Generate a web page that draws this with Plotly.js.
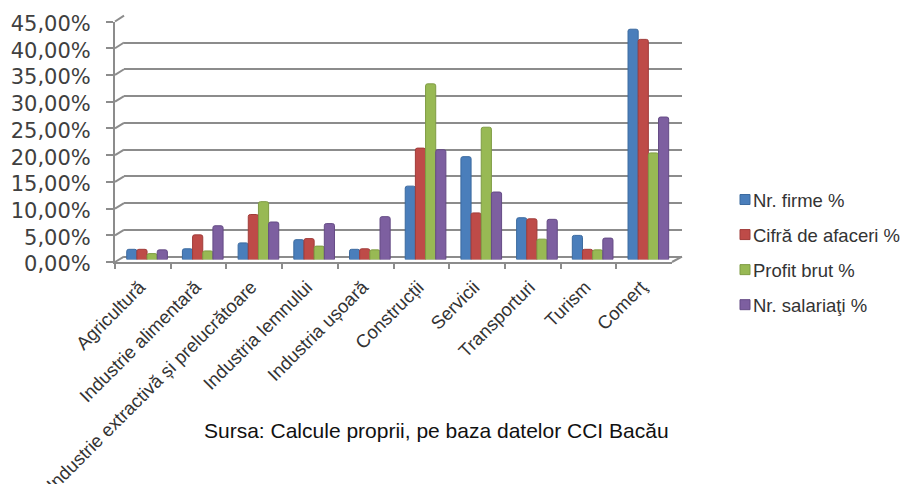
<!DOCTYPE html>
<html>
<head>
<meta charset="utf-8">
<script src="https://cdn.plot.ly/plotly-3.0.1.min.js"></script>
<style>html,body{margin:0;padding:0;background:#fff}#c{width:901px;height:484px}</style>
</head>
<body>
<div id="c"></div>
<script>
const categories = ["Agricultură","Industrie alimentară","Industrie extractivă și prelucrătoare","Industria lemnului","Industria ușoară","Construcții","Servicii","Transporturi","Turism","Comerţ"];
const nrFirme = [1.9,2.0,3.1,3.7,1.9,13.7,19.2,7.8,4.5,43.0];
const cifraAfaceri = [1.9,4.6,8.4,3.9,2.0,20.8,8.7,7.6,1.9,41.1];
const profitBrut = [1.1,1.6,10.8,2.5,1.8,32.8,24.7,3.8,1.8,19.9];
const nrSalariati = [1.8,6.3,7.0,6.7,8.0,20.5,12.6,7.5,4.0,26.6];
const seriesNames = ["Nr. firme %","Cifră de afaceri %","Profit brut %","Nr. salariaţi %"];
const seriesValues = [nrFirme,cifraAfaceri,profitBrut,nrSalariati];
const colors = ["#4A7EBB","#BE4B48","#98B954","#7D5FA0"];
const edges = ["#3B6A9F","#A03C3A","#7F9C44","#654B85"];
const sourceText = "Sursa: Calcule proprii, pe baza datelor CCI Bacău";
const W = 901, H = 484;
const fx = p => p / W, fy = p => 1 - p / H;
const yMax = 45, yStep = 5;
const front = {x0:115, x1:672, top:21.5, bottom:262};
const back  = {x0:124, x1:682, top:15.7, bottom:256.7};
const mid   = {x0:119.2, x1:676.2, top:18.5, bottom:259.5};
const axisColor = "#8C8C8C";

const traces = [
  {type:"scatter",mode:"none",x:categories,y:categories.map(()=>0),xaxis:"x",yaxis:"y",showlegend:false,hoverinfo:"skip"},
  {type:"scatter",mode:"none",x:categories,y:categories.map(()=>0),xaxis:"x2",yaxis:"y2",showlegend:false,hoverinfo:"skip"}
];
seriesNames.forEach((name,i)=>traces.push({
  type:"bar",name,x:categories,y:seriesValues[i],xaxis:"x3",yaxis:"y3",legendgroup:name,
  marker:{color:colors[i],line:{color:edges[i],width:1},cornerradius:2}
}));

const shapes = [];
for (let v=0;v<=yMax;v+=yStep){
  const t=v/yMax;
  shapes.push({type:"line",xref:"paper",yref:"paper",layer:"below",
    x0:fx(front.x0),x1:fx(back.x0),
    y0:fy(front.bottom+(front.top-front.bottom)*t),y1:fy(back.bottom+(back.top-back.bottom)*t),
    line:{color:axisColor,width:2}});
}
shapes.push({type:"line",xref:"paper",yref:"paper",layer:"below",x0:fx(front.x1),x1:fx(back.x1),y0:fy(front.bottom),y1:fy(back.bottom),line:{color:axisColor,width:2}});

const dom = (b)=>({x:[fx(b.x0),fx(b.x1)],y:[fy(b.bottom),fy(b.top)]});
const layout = {
  width:W,height:H,margin:{l:0,r:0,t:0,b:0},paper_bgcolor:"#fff",plot_bgcolor:"rgba(0,0,0,0)",
  barmode:"group",bargap:0.27,bargroupgap:0,showlegend:true,
  xaxis:{domain:dom(front).x,anchor:"y",type:"category",categoryarray:categories,categoryorder:"array",range:[-0.5,9.5],
    tickson:"boundaries",ticks:"outside",ticklen:5,tickwidth:2,tickcolor:axisColor,showline:true,linecolor:axisColor,linewidth:2,
    showgrid:false,zeroline:false,tickangle:-45,automargin:false,ticklabelstandoff:5,ticklabelshift:-3,tickfont:{family:"Liberation Sans, Arial",size:18.5,color:"#333"}},
  yaxis:{domain:dom(front).y,anchor:"x",range:[0,yMax+0.02],tick0:0,ticks:"outside",ticklen:7,tickwidth:2,tickcolor:axisColor,
    showline:true,linecolor:axisColor,linewidth:2,showgrid:false,zeroline:false,automargin:false,ticklabelstandoff:11,ticklabelshift:2,
    tickvals:[0,5,10,15,20,25,30,35,40,45],ticktext:["0,00%","5,00%","10,00%","15,00%","20,00%","25,00%","30,00%","35,00%","40,00%","45,00%"],
    tickfont:{family:"DejaVu Sans",size:21,color:"#404040"}},
  xaxis2:{domain:dom(back).x,anchor:"y2",type:"category",categoryarray:categories,range:[-0.5,9.5],showticklabels:false,ticks:"",showgrid:false,zeroline:false,showline:false},
  yaxis2:{domain:dom(back).y,anchor:"x2",range:[0,yMax+0.02],tickvals:[0,5,10,15,20,25,30,35,40,45],showticklabels:false,ticks:"",showgrid:true,gridcolor:axisColor,gridwidth:2,zeroline:true,zerolinecolor:axisColor,zerolinewidth:2,showline:false},
  xaxis3:{domain:dom(mid).x,anchor:"y3",type:"category",categoryarray:categories,range:[-0.5,9.5],showticklabels:false,ticks:"",showgrid:false,zeroline:false,showline:false},
  yaxis3:{domain:dom(mid).y,anchor:"x3",range:[0,yMax],showticklabels:false,ticks:"",showgrid:false,zeroline:false,showline:false},
  legend:{x:fx(695),y:fy(181),xanchor:"left",yanchor:"top",tracegroupgap:8,font:{family:"Liberation Sans, Arial",size:18.5,color:"#333"},bgcolor:"rgba(0,0,0,0)",itemclick:false},
  shapes,
  annotations:[{text:sourceText,xref:"paper",yref:"paper",x:fx(436),y:fy(430),xanchor:"center",yanchor:"middle",showarrow:false,font:{family:"Liberation Sans, Arial",size:21,color:"#111"}}]
};
Plotly.newPlot("c",traces,layout,{displayModeBar:false,responsive:false}).then(()=>{
  document.querySelectorAll("#c .legend .legendpoints path").forEach(p=>{
    p.setAttribute("d","M5,5H-5V-5H5Z");
    p.setAttribute("transform","translate(32,0)");
  });
  const lg=document.querySelector("#c .legend");
  const m=/translate\(([-\d.]+)[ ,]+([-\d.]+)\)/.exec(lg.getAttribute("transform"));
  lg.setAttribute("transform","translate("+(parseFloat(m[1])+18)+","+m[2]+")");
  document.querySelectorAll("#c .legend [clip-path]").forEach(e=>e.removeAttribute("clip-path"));
});
</script>
</body>
</html>
